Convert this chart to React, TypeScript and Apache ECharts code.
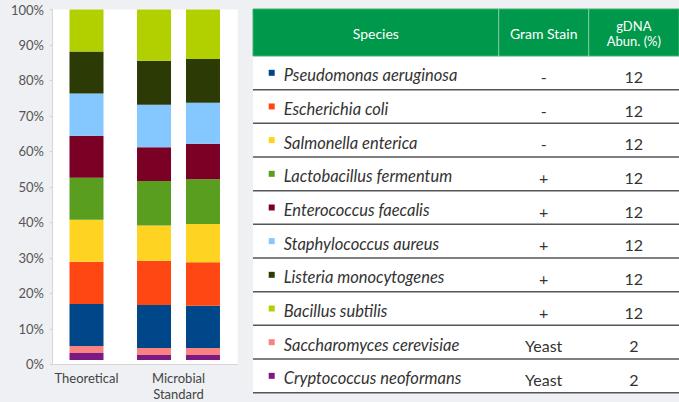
import React, { useEffect, useRef } from "react";
import * as echarts from "echarts";

// ---- data ----
const species = [
  "Pseudomonas aeruginosa",
  "Escherichia coli",
  "Salmonella enterica",
  "Lactobacillus fermentum",
  "Enterococcus faecalis",
  "Staphylococcus aureus",
  "Listeria monocytogenes",
  "Bacillus subtilis",
  "Saccharomyces cerevisiae",
  "Cryptococcus neoformans",
];
const gramStain = ["-", "-", "-", "+", "+", "+", "+", "+", "Yeast", "Yeast"];
const abundance = [12, 12, 12, 12, 12, 12, 12, 12, 2, 2];
const theoretical = [12, 12, 12, 12, 12, 12, 12, 12, 2, 2];
const measuredA = [12.3, 12.6, 10.1, 12.7, 9.6, 12.1, 12.6, 14.6, 2.0, 1.4];
const measuredB = [12.1, 12.4, 10.9, 12.8, 10.1, 11.7, 12.5, 14.1, 2.0, 1.4];
const stackOrder = [9, 8, 0, 1, 2, 3, 4, 5, 6, 7]; // bottom to top
const xLabels = ["Theoretical", "Microbial\nStandard"];
const headers = ["Species", "Gram Stain", "gDNA\nAbun. (%)"];
const colors = [
  "#00478a",
  "#ff4714",
  "#ffd322",
  "#5a9e1f",
  "#7a0026",
  "#85c7ff",
  "#2c3b06",
  "#b2d000",
  "#f98282",
  "#7c1a85",
];

const FONT = "Lato, 'Open Sans', sans-serif";

export default function App() {
  const ref = useRef<HTMLDivElement>(null);

  useEffect(() => {
    if (!ref.current) return;
    const chart = echarts.init(ref.current, undefined, { renderer: "svg" });

    // table geometry
    const tLeft = 253;
    const tRight = 679;
    const tTop = 9;
    const headBottom = 56;
    const rowH = 33.67;
    const colDiv1 = 498.7;
    const colDiv2 = 588.7;
    const colCenters = [(tLeft + colDiv1) / 2, (colDiv1 + colDiv2) / 2, (colDiv2 + tRight) / 2];

    const graphics: any[] = [];
    graphics.push({
      type: "rect",
      shape: { x: tLeft, y: tTop, width: tRight - tLeft, height: headBottom + rowH * species.length - tTop },
      style: { fill: "#ffffff" },
      z: -10,
    });
    graphics.push({
      type: "rect",
      shape: { x: tLeft, y: tTop, width: tRight - tLeft, height: headBottom - tTop },
      style: { fill: "#00984a", stroke: "#3db46e", lineWidth: 1 },
      z: -9,
    });
    [colDiv1, colDiv2].forEach((x) =>
      graphics.push({
        type: "line",
        shape: { x1: x, y1: tTop, x2: x, y2: headBottom },
        style: { stroke: "rgba(255,255,255,0.55)", lineWidth: 1 },
        z: -8,
      })
    );
    headers.forEach((h, i) => {
      const multi = h.indexOf("\n") >= 0;
      graphics.push({
        type: "text",
        x: colCenters[i],
        y: (tTop + headBottom) / 2 + 1,
        style: {
          text: h,
          fill: "#ffffff",
          fontFamily: FONT,
          fontSize: multi ? 13 : 14,
          lineHeight: multi ? 15 : 16,
          align: "center",
          verticalAlign: "middle",
        },
        z: -7,
      });
    });
    species.forEach((_, i) => {
      const cy = headBottom + rowH * (i + 0.5);
      graphics.push({
        type: "line",
        shape: { x1: tLeft, y1: headBottom + rowH * (i + 1), x2: tRight, y2: headBottom + rowH * (i + 1) },
        style: { stroke: "#555555", lineWidth: 1.5 },
        z: -8,
      });
      graphics.push({
        type: "text",
        x: colCenters[1],
        y: cy + 3.5,
        style: {
          text: gramStain[i],
          fill: "#333333",
          fontFamily: FONT,
          fontSize: 16,
          align: "center",
          verticalAlign: "middle",
        },
        z: -7,
      });
      graphics.push({
        type: "text",
        x: colCenters[2],
        y: cy + 3.5,
        style: {
          text: String(abundance[i]),
          fill: "#333333",
          fontFamily: FONT,
          fontSize: 16,
          align: "center",
          verticalAlign: "middle",
        },
        z: -7,
      });
    });

    const series: any[] = [];
    const bars = [
      { key: "T", vals: theoretical, axis: 1, cat: 0 },
      { key: "A", vals: measuredA, axis: 2, cat: 1 },
      { key: "B", vals: measuredB, axis: 2, cat: 1 },
    ];
    bars.forEach((b) => {
      stackOrder.forEach((si) => {
        const data = xLabels.map((_, c) => (c === b.cat ? b.vals[si] : "-"));
        series.push({
          type: "bar",
          name: species[si],
          stack: b.key,
          xAxisIndex: b.axis,
          yAxisIndex: 1,
          barWidth: 34,
          barGap: "44%",
          data,
          itemStyle: { color: colors[si] },
          emphasis: { disabled: true },
        });
      });
    });

    const plotTop = 9.5;
    const plotH = 354.8;

    chart.setOption({
      animation: false,
      backgroundColor: "#eef0f3",
      textStyle: { fontFamily: FONT },
      graphic: graphics,
      legend: {
        orient: "vertical",
        left: 268.7,
        top: 65.3,
        padding: 0,
        itemWidth: 6,
        itemHeight: 11,
        itemGap: 13.67,
        icon: "path://M0,0L6,0L6,6L0,6Z M0,11",
        selectedMode: false,
        data: species,
        textStyle: {
          fontFamily: FONT,
          fontStyle: "italic",
          fontSize: 16.5,
          color: "#333333",
          lineHeight: 20,
          padding: [0, 0, 0, 4],
        },
      },
      grid: [
        { left: 52, top: plotTop, width: 185.7, height: plotH, show: true, backgroundColor: "#ffffff", borderWidth: 0 },
        { left: 40.5, top: plotTop, width: 184, height: plotH },
      ],
      xAxis: [
        {
          gridIndex: 0,
          type: "value",
          min: 0,
          max: 1,
          axisLine: { show: true, lineStyle: { color: "#d6d6d6" } },
          axisTick: { show: false },
          axisLabel: { show: false },
          splitLine: { show: false },
        },
        {
          gridIndex: 1,
          type: "category",
          data: xLabels,
          axisLine: { show: false },
          axisTick: { show: false },
          axisLabel: { color: "#444444", fontSize: 13, lineHeight: 16, margin: 10, fontFamily: FONT },
        },
        { gridIndex: 1, type: "category", data: xLabels, show: false },
      ],
      yAxis: [
        {
          gridIndex: 0,
          type: "value",
          min: 0,
          max: 100,
          interval: 10,
          axisLine: { show: true, lineStyle: { color: "#d6d6d6" } },
          axisTick: { show: true, length: 2, lineStyle: { color: "#d0d0d0" } },
          axisLabel: { formatter: "{value}%", color: "#555555", fontSize: 13, margin: 8, fontFamily: FONT },
          splitLine: { show: false },
        },
        { gridIndex: 1, type: "value", min: 0, max: 100, show: false },
      ],
      series,
    });

    return () => chart.dispose();
  }, []);

  return (
    <div
      ref={ref}
      style={{ position: "fixed", left: 0, top: 0, width: 679, height: 402 }}
    />
  );
}
